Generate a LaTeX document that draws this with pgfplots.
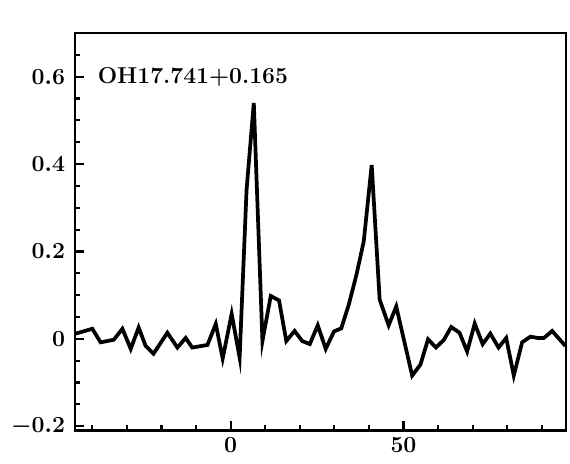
\documentclass[border=0pt]{standalone}
\usepackage{pgfplots}
\pgfplotsset{compat=1.18}
\begin{document}
\begin{tikzpicture}[x=1pt,y=1pt]
\begin{axis}[
    scale only axis,
    width=368pt,
    height=298pt,
    xmin=-45, xmax=97,
    ymin=-0.21, ymax=0.7,
    xtick={0,50},
    minor xtick={-40,-30,-20,-10,10,20,30,40,60,70,80,90},
    ytick={-0.2,0,0.2,0.4,0.6},
    minor ytick={-0.15,-0.1,-0.05,0.05,0.1,0.15,0.25,0.3,0.35,0.45,0.5,0.55,0.65},
    yticklabel style={/pgf/number format/fixed},
    xtick pos=bottom, ytick pos=left,
    tick align=inside,
    major tick length=7pt,
    minor tick length=4pt,
    tick style={line width=1.6pt, black},
    axis line style={line width=1.8pt},
    tick label style={font=\fontsize{17.5}{20}\selectfont\boldmath},
    yticklabel style={xshift=-4pt},
    xticklabel style={yshift=-2pt},
]

% spectrum
\addplot[black, line width=2.8pt] coordinates {
    (-44.8, 0.012) (-40, 0.023) (-37.6, -0.008) (-33.8, -0.002)
    (-31.3, 0.023) (-28.9, -0.023) (-26.6, 0.026) (-24.6, -0.016)
    (-22.3, -0.034) (-18.3, 0.014) (-15.4, -0.020) (-13, 0.002)
    (-11.1, -0.020) (-6.7, -0.014) (-4.3, 0.034) (-2.3, -0.045)
    (0.3, 0.057) (2.6, -0.043) (4.6, 0.34) (6.7, 0.54)
    (9.2, -0.005) (11.6, 0.098) (14, 0.088) (16.1, -0.005)
    (18.5, 0.018) (20.7, -0.005) (22.9, -0.012) (25.2, 0.031)
    (27.5, -0.023) (29.9, 0.017) (32, 0.024) (34.2, 0.079)
    (36.4, 0.147) (38.5, 0.223) (40.8, 0.398) (43.1, 0.09)
    (45.7, 0.031) (47.9, 0.074) (52.5, -0.084) (54.9, -0.059)
    (57.1, -0.001) (59.4, -0.02) (61.7, -0.002) (63.8, 0.027)
    (66.2, 0.014) (68.4, -0.029) (70.6, 0.035) (72.9, -0.012)
    (75.1, 0.012) (77.5, -0.02) (79.7, 0.002) (81.9, -0.084)
    (84.3, -0.008) (86.7, 0.005) (88.8, 0.002) (90.6, 0.002)
    (93, 0.018) (96.8, -0.016)
};

\node[anchor=west, font=\fontsize{17.2}{19}\selectfont\bfseries, inner sep=0pt]
    at (axis cs:-38.5,0.6) {OH17.741+0.165};
\end{axis}
\path[use as bounding box] (-56.25pt,-24.75pt) rectangle (371pt,322.75pt);
\end{tikzpicture}
\end{document}
